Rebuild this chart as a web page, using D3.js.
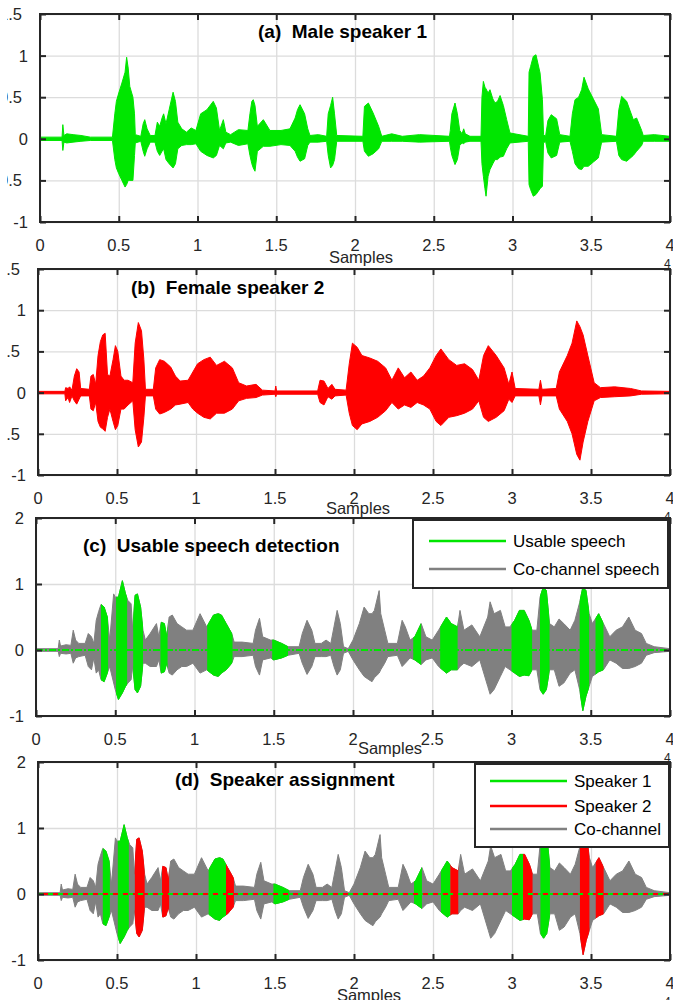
<!DOCTYPE html>
<html>
<head>
<meta charset="utf-8">
<script src="https://d3js.org/d3.v7.min.js"></script>
<style>
  body, html { margin: 0; padding: 0; background: #fff; overflow: hidden; }
  svg { display: block; }
  text { font-family: "Liberation Sans", Arial, sans-serif; fill: #262626; }
  .grid line { stroke: #dcdcdc; stroke-width: 1.3; }
  .grid path, .tk path, .tk text { display: none; }
  .tk line { stroke: #262626; stroke-width: 2; }
  .frame { fill: none; stroke: #262626; stroke-width: 2; }
  .title { font-weight: bold; font-size: 19px; fill: #000; white-space: pre; }
  .lbl { font-size: 16.5px; }
  .leg text { font-size: 17px; fill: #000; }
</style>
</head>
<body>
<div id="chart"></div>
<script>
var W = 673, H = 1000;
var GREEN = "#00e600", RED = "#ff0000", GRAY = "#808080";

var xTicks = [0, 0.5, 1, 1.5, 2, 2.5, 3, 3.5, 4];
var yTicksAB = [-1, -0.5, 0, 0.5, 1, 1.5];
var yTicksCD = [-1, 0, 1, 2];

// waveform envelopes: [samples (x1e4), upper, lower]
var male = [
  [0, 0.02, -0.02], [0.14, 0.02, -0.02], [0.145, 0.17, -0.14], [0.152, 0.04, -0.04], [0.17, 0.06, -0.05],
  [0.21, 0.05, -0.04], [0.26, 0.04, -0.03], [0.32, 0.02, -0.02], [0.46, 0.02, -0.02], [0.475, 0.3, -0.25],
  [0.485, 0.45, -0.35], [0.5, 0.55, -0.42], [0.52, 0.67, -0.5], [0.54, 0.8, -0.58], [0.55, 0.98, -0.55],
  [0.56, 0.85, -0.5], [0.57, 0.63, -0.5], [0.59, 0.5, -0.5], [0.6, 0.3, -0.2], [0.605, 0.05, -0.05],
  [0.64, 0.03, -0.03], [0.655, 0.18, -0.15], [0.665, 0.23, -0.21], [0.68, 0.12, -0.12], [0.7, 0.04, -0.04],
  [0.73, 0.04, -0.04], [0.745, 0.2, -0.15], [0.76, 0.15, -0.2], [0.775, 0.25, -0.15], [0.785, 0.3, -0.12],
  [0.8, 0.18, -0.25], [0.82, 0.35, -0.3], [0.845, 0.56, -0.35], [0.86, 0.45, -0.3], [0.875, 0.2, -0.12],
  [0.9, 0.12, -0.08], [0.93, 0.08, -0.07], [0.96, 0.13, -0.07], [0.99, 0.1, -0.06], [1.02, 0.3, -0.15],
  [1.06, 0.35, -0.2], [1.1, 0.45, -0.23], [1.12, 0.37, -0.2], [1.14, 0.1, -0.08], [1.164, 0.23, -0.12],
  [1.18, 0.08, -0.05], [1.21, 0.05, -0.04], [1.26, 0.11, -0.08], [1.32, 0.1, -0.06], [1.333, 0.3, -0.2],
  [1.345, 0.45, -0.3], [1.354, 0.47, -0.35], [1.365, 0.4, -0.39], [1.38, 0.15, -0.15], [1.418, 0.23, -0.09],
  [1.46, 0.1, -0.09], [1.53, 0.1, -0.07], [1.587, 0.12, -0.08], [1.62, 0.25, -0.15], [1.635, 0.35, -0.22],
  [1.651, 0.41, -0.27], [1.68, 0.3, -0.24], [1.7, 0.12, -0.08], [1.714, 0.04, -0.04], [1.767, 0.05, -0.04],
  [1.82, 0.03, -0.03], [1.83, 0.3, -0.2], [1.845, 0.4, -0.35], [1.858, 0.5, -0.32], [1.87, 0.3, -0.25],
  [1.884, 0.04, -0.03], [2.05, 0.03, -0.03], [2.06, 0.39, -0.15], [2.085, 0.43, -0.21], [2.115, 0.31, -0.18],
  [2.15, 0.15, -0.12], [2.17, 0.03, -0.03], [2.233, 0.06, -0.03], [2.3, 0.03, -0.03], [2.41, 0.05, -0.04],
  [2.6, 0.03, -0.03], [2.605, 0.1, -0.1], [2.615, 0.3, -0.2], [2.635, 0.43, -0.31], [2.65, 0.3, -0.25],
  [2.665, 0.1, -0.08], [2.68, 0.06, -0.05], [2.69, 0.12, -0.06], [2.7, 0.06, -0.04], [2.73, 0.03, -0.03],
  [2.8, 0.03, -0.03], [2.806, 0.5, -0.3], [2.815, 0.69, -0.45], [2.825, 0.62, -0.6], [2.832, 0.6, -0.69],
  [2.845, 0.55, -0.45], [2.857, 0.59, -0.37], [2.875, 0.48, -0.3], [2.889, 0.43, -0.25], [2.905, 0.45, -0.25],
  [2.921, 0.52, -0.22], [2.942, 0.4, -0.21], [2.963, 0.23, -0.12], [2.984, 0.07, -0.05], [3.1, 0.03, -0.03],
  [3.105, 0.8, -0.55], [3.115, 0.87, -0.61], [3.132, 0.99, -0.69], [3.149, 1.01, -0.67], [3.175, 0.79, -0.6],
  [3.19, 0.47, -0.57], [3.197, 0.05, -0.05], [3.21, 0.03, -0.03], [3.225, 0.22, -0.17], [3.246, 0.29, -0.23],
  [3.28, 0.24, -0.2], [3.3, 0.05, -0.04], [3.365, 0.03, -0.03], [3.38, 0.3, -0.15], [3.397, 0.47, -0.3],
  [3.42, 0.5, -0.36], [3.439, 0.59, -0.37], [3.454, 0.74, -0.33], [3.481, 0.6, -0.33], [3.513, 0.48, -0.28],
  [3.545, 0.36, -0.23], [3.566, 0.05, -0.04], [3.66, 0.03, -0.03], [3.675, 0.35, -0.2], [3.693, 0.51, -0.25],
  [3.725, 0.45, -0.27], [3.767, 0.23, -0.2], [3.788, 0.25, -0.15], [3.82, 0.1, -0.08], [3.83, 0.04, -0.03],
  [3.9, 0.05, -0.03], [4, 0.03, -0.03]
];

var female = [
  [0, 0.015, -0.015], [0.17, 0.015, -0.015], [0.175, 0.06, -0.1], [0.19, 0.05, -0.06], [0.2, 0.07, -0.12],
  [0.215, 0.03, -0.04], [0.23, 0.2, -0.1], [0.245, 0.29, -0.14], [0.26, 0.25, -0.08], [0.27, 0.05, -0.04],
  [0.325, 0.04, -0.04], [0.335, 0.2, -0.2], [0.35, 0.22, -0.22], [0.365, 0.1, -0.12], [0.38, 0.45, -0.35],
  [0.395, 0.62, -0.42], [0.41, 0.7, -0.44], [0.425, 0.72, -0.47], [0.44, 0.22, -0.3], [0.455, 0.2, -0.2],
  [0.475, 0.4, -0.35], [0.49, 0.57, -0.45], [0.505, 0.5, -0.4], [0.525, 0.2, -0.2], [0.545, 0.15, -0.2],
  [0.57, 0.15, -0.15], [0.6, 0.12, -0.1], [0.615, 0.6, -0.45], [0.635, 0.85, -0.66], [0.655, 0.75, -0.6],
  [0.67, 0.4, -0.3], [0.68, 0.04, -0.04], [0.73, 0.04, -0.04], [0.745, 0.3, -0.2], [0.77, 0.4, -0.26],
  [0.8, 0.38, -0.24], [0.84, 0.31, -0.2], [0.87, 0.2, -0.15], [0.9, 0.14, -0.14], [0.95, 0.15, -0.12],
  [0.98, 0.25, -0.2], [1.01, 0.35, -0.25], [1.05, 0.4, -0.3], [1.09, 0.43, -0.32], [1.13, 0.33, -0.25],
  [1.18, 0.38, -0.25], [1.23, 0.3, -0.2], [1.27, 0.12, -0.1], [1.32, 0.08, -0.07], [1.38, 0.1, -0.06],
  [1.42, 0.03, -0.03], [1.5, 0.02, -0.02], [1.505, 0.08, -0.05], [1.51, 0.02, -0.02], [1.77, 0.02, -0.02],
  [1.785, 0.15, -0.12], [1.81, 0.14, -0.15], [1.835, 0.05, -0.05], [1.86, 0.1, -0.08], [1.88, 0.04, -0.04],
  [1.95, 0.03, -0.03], [1.97, 0.35, -0.25], [1.99, 0.6, -0.4], [2.02, 0.55, -0.45], [2.05, 0.45, -0.38],
  [2.1, 0.42, -0.35], [2.15, 0.38, -0.3], [2.2, 0.3, -0.22], [2.24, 0.15, -0.12], [2.28, 0.3, -0.2],
  [2.32, 0.18, -0.15], [2.36, 0.25, -0.18], [2.4, 0.15, -0.12], [2.44, 0.2, -0.15], [2.48, 0.3, -0.2],
  [2.52, 0.45, -0.35], [2.55, 0.53, -0.4], [2.6, 0.4, -0.3], [2.65, 0.33, -0.28], [2.7, 0.35, -0.25],
  [2.75, 0.28, -0.2], [2.79, 0.15, -0.1], [2.82, 0.45, -0.3], [2.85, 0.57, -0.35], [2.9, 0.45, -0.3],
  [2.95, 0.3, -0.22], [2.98, 0.1, -0.08], [3.0, 0.25, -0.12], [3.02, 0.05, -0.04], [3.17, 0.04, -0.04],
  [3.18, 0.15, -0.15], [3.19, 0.04, -0.04], [3.28, 0.05, -0.04], [3.3, 0.25, -0.2], [3.35, 0.45, -0.35],
  [3.38, 0.6, -0.5], [3.41, 0.87, -0.75], [3.43, 0.8, -0.82], [3.45, 0.7, -0.6], [3.48, 0.45, -0.35],
  [3.52, 0.12, -0.1], [3.56, 0.06, -0.06], [3.65, 0.07, -0.05], [3.75, 0.05, -0.04], [3.82, 0.02, -0.02],
  [4, 0.015, -0.015]
];

var mixture = [
  [0, 0.02, -0.02], [0.14, 0.02, -0.02], [0.147, 0.15, -0.1], [0.155, 0.06, -0.05], [0.19, 0.08, -0.06],
  [0.22, 0.07, -0.05], [0.235, 0.3, -0.2], [0.25, 0.15, -0.12], [0.27, 0.1, -0.1], [0.31, 0.1, -0.08],
  [0.33, 0.25, -0.25], [0.35, 0.2, -0.3], [0.365, 0.1, -0.12], [0.38, 0.45, -0.35], [0.395, 0.58, -0.3],
  [0.41, 0.69, -0.45], [0.43, 0.65, -0.48], [0.45, 0.5, -0.35], [0.465, 0.15, -0.25], [0.49, 0.85, -0.5],
  [0.5, 0.8, -0.6], [0.52, 0.8, -0.75], [0.545, 1.05, -0.65], [0.565, 0.85, -0.55], [0.58, 0.75, -0.5],
  [0.6, 0.7, -0.45], [0.61, 0.3, -0.25], [0.625, 0.83, -0.6], [0.64, 0.85, -0.65], [0.66, 0.65, -0.55],
  [0.675, 0.3, -0.2], [0.69, 0.15, -0.2], [0.72, 0.25, -0.25], [0.76, 0.4, -0.25], [0.775, 0.2, -0.15],
  [0.79, 0.42, -0.35], [0.81, 0.4, -0.33], [0.825, 0.2, -0.2], [0.84, 0.5, -0.35], [0.86, 0.53, -0.38],
  [0.89, 0.4, -0.3], [0.92, 0.35, -0.25], [0.95, 0.3, -0.25], [0.99, 0.3, -0.2], [1.035, 0.55, -0.35],
  [1.077, 0.35, -0.3], [1.12, 0.53, -0.38], [1.15, 0.55, -0.4], [1.17, 0.53, -0.35], [1.2, 0.4, -0.3],
  [1.235, 0.25, -0.2], [1.25, 0.12, -0.1], [1.3, 0.12, -0.1], [1.37, 0.1, -0.08], [1.385, 0.3, -0.25],
  [1.41, 0.48, -0.38], [1.43, 0.2, -0.15], [1.48, 0.15, -0.12], [1.5, 0.15, -0.15], [1.55, 0.1, -0.12],
  [1.59, 0.05, -0.08], [1.66, 0.05, -0.05], [1.68, 0.25, -0.2], [1.71, 0.45, -0.37], [1.74, 0.3, -0.25],
  [1.76, 0.1, -0.1], [1.8, 0.1, -0.1], [1.83, 0.15, -0.1], [1.86, 0.1, -0.08], [1.88, 0.35, -0.25],
  [1.9, 0.6, -0.38], [1.92, 0.4, -0.3], [1.94, 0.05, -0.05], [1.97, 0.02, -0.02], [2.0, 0.15, -0.15],
  [2.04, 0.4, -0.3], [2.07, 0.65, -0.4], [2.1, 0.55, -0.45], [2.12, 0.55, -0.48], [2.135, 0.6, -0.42],
  [2.165, 0.9, -0.35], [2.175, 0.55, -0.3], [2.2, 0.3, -0.2], [2.22, 0.1, -0.1], [2.28, 0.1, -0.08],
  [2.31, 0.45, -0.25], [2.33, 0.35, -0.2], [2.36, 0.15, -0.12], [2.39, 0.2, -0.15], [2.43, 0.4, -0.22],
  [2.46, 0.2, -0.15], [2.5, 0.15, -0.12], [2.54, 0.3, -0.25], [2.59, 0.5, -0.35], [2.62, 0.4, -0.3],
  [2.66, 0.35, -0.3], [2.675, 0.6, -0.25], [2.7, 0.3, -0.2], [2.75, 0.38, -0.25], [2.8, 0.2, -0.15],
  [2.85, 0.5, -0.55], [2.865, 0.73, -0.67], [2.89, 0.55, -0.6], [2.93, 0.6, -0.4], [2.96, 0.35, -0.25],
  [2.99, 0.35, -0.3], [3.02, 0.45, -0.35], [3.05, 0.6, -0.4], [3.08, 0.6, -0.38], [3.11, 0.45, -0.39],
  [3.13, 0.3, -0.3], [3.16, 0.3, -0.3], [3.18, 0.8, -0.6], [3.2, 0.95, -0.67], [3.22, 0.9, -0.6],
  [3.24, 0.4, -0.3], [3.27, 0.35, -0.3], [3.3, 0.47, -0.55], [3.33, 0.4, -0.5], [3.37, 0.3, -0.35],
  [3.4, 0.45, -0.3], [3.43, 0.72, -0.6], [3.45, 0.95, -0.92], [3.47, 0.9, -0.7], [3.49, 0.55, -0.55],
  [3.51, 0.4, -0.4], [3.55, 0.55, -0.33], [3.58, 0.4, -0.3], [3.62, 0.2, -0.15], [3.66, 0.3, -0.2],
  [3.7, 0.35, -0.28], [3.74, 0.5, -0.28], [3.78, 0.3, -0.25], [3.82, 0.25, -0.2], [3.85, 0.1, -0.08],
  [3.9, 0.05, -0.04], [4, 0.02, -0.02]
];

// detected segments [start, end] in samples (x1e4)
var speaker1Segs = [[0.41, 0.455], [0.505, 0.575], [1.08, 1.19], [1.49, 1.59], [2.38, 2.43], [2.55, 2.61], [3.0, 3.07], [3.18, 3.24]];
var speaker2Segs = [[0.613, 0.675], [0.785, 0.83], [1.19, 1.24], [2.61, 2.66], [3.07, 3.13], [3.43, 3.49], [3.53, 3.58]];
var usableSegs = speaker1Segs.concat(speaker2Segs);

var legendC = [["Usable speech", GREEN], ["Co-channel speech", GRAY]];
var legendD = [["Speaker 1", GREEN], ["Speaker 2", RED], ["Co-channel", GRAY]];

var svg = d3.select("#chart").append("svg").attr("width", W).attr("height", H);
var defs = svg.append("defs");
defs.append("clipPath").attr("id", "ylab-clip")
  .append("rect").attr("x", 7).attr("y", 0).attr("width", 200).attr("height", H);

var panels = [
  { left: 40, top: 14, right: 670, bottom: 222, yDomain: [-1, 1.5], yTicks: yTicksAB,
    title: "(a)  Male speaker 1", titleX: 258, titleY: 38, samplesX: 361, samplesY: 263,
    layers: [{ env: male, color: GREEN }] },
  { left: 38, top: 269, right: 670, bottom: 475, yDomain: [-1, 1.5], yTicks: yTicksAB,
    title: "(b)  Female speaker 2", titleX: 131, titleY: 294, samplesX: 358, samplesY: 514,
    layers: [{ env: female, color: RED }] },
  { left: 36, top: 518, right: 670, bottom: 716, yDomain: [-1, 2], yTicks: yTicksCD,
    title: "(c)  Usable speech detection", titleX: 83, titleY: 552, samplesX: 390, samplesY: 754,
    layers: [{ env: mixture, color: GRAY }, { env: mixture, color: GREEN, segs: usableSegs }],
    zero: [{ color: GREEN, dash: "7,2,2,2", offset: 0 }],
    legend: { items: legendC, x0: 413, y0: 520, x1: 668, y1: 588, lx0: 429, lx1: 506, tx: 513, rowY: [541, 569] } },
  { left: 38, top: 762, right: 670, bottom: 960, yDomain: [-1, 2], yTicks: yTicksCD,
    title: "(d)  Speaker assignment", titleX: 175, titleY: 786, samplesX: 369, samplesY: 1001,
    layers: [{ env: mixture, color: GRAY }, { env: mixture, color: GREEN, segs: speaker1Segs },
             { env: mixture, color: RED, segs: speaker2Segs }],
    zero: [{ color: GREEN, dash: "5,5", offset: 0 }, { color: RED, dash: "5,5", offset: 5 }],
    legend: { items: legendD, x0: 475, y0: 764, x1: 669, y1: 847, lx0: 490, lx1: 567, tx: 574, rowY: [781, 806, 829] } }
];

panels.forEach(function(p, pi) {
  var x = d3.scaleLinear().domain([0, 4]).range([p.left, p.right]);
  var y = d3.scaleLinear().domain(p.yDomain).range([p.bottom, p.top]);
  var g = svg.append("g");
  var h = p.bottom - p.top, w = p.right - p.left;

  // grid
  g.append("g").attr("class", "grid").attr("transform", "translate(0," + p.bottom + ")")
    .call(d3.axisBottom(x).tickValues(xTicks).tickSize(-h).tickFormat(""));
  g.append("g").attr("class", "grid").attr("transform", "translate(" + p.left + ",0)")
    .call(d3.axisLeft(y).tickValues(p.yTicks).tickSize(-w).tickFormat(""));

  var clipId = "plot-" + pi;
  defs.append("clipPath").attr("id", clipId).append("rect")
    .attr("x", p.left).attr("y", p.top).attr("width", w).attr("height", h);

  var area = d3.area()
    .x(function(d) { return x(d[0]); })
    .y0(function(d) { return y(d[2]); })
    .y1(function(d) { return y(d[1]); });

  var plot = g.append("g").attr("clip-path", "url(#" + clipId + ")");
  p.layers.forEach(function(l, li) {
    var target = plot;
    if (l.segs) {
      var segId = "seg-" + pi + "-" + li;
      defs.append("clipPath").attr("id", segId).selectAll("rect")
        .data(l.segs).enter().append("rect")
        .attr("x", function(s) { return x(s[0]); })
        .attr("width", function(s) { return x(s[1]) - x(s[0]); })
        .attr("y", p.top).attr("height", h);
      target = plot.append("g").attr("clip-path", "url(#" + segId + ")");
    }
    target.append("path").datum(l.env)
      .attr("d", area)
      .attr("fill", l.color)
      .attr("stroke", l.color)
      .attr("stroke-width", 1);
  });

  if (p.zero) {
    var zl = d3.line().x(function(d) { return x(d); }).y(y(0));
    p.zero.forEach(function(z) {
      plot.append("path").datum([0, 4]).attr("d", zl)
        .attr("stroke", z.color).attr("stroke-width", 2)
        .attr("stroke-dasharray", z.dash).attr("stroke-dashoffset", z.offset);
    });
  }

  // frame and inward ticks
  g.append("rect").attr("class", "frame")
    .attr("x", p.left).attr("y", p.top).attr("width", w).attr("height", h);
  g.append("g").attr("class", "tk").attr("transform", "translate(0," + p.bottom + ")")
    .call(d3.axisBottom(x).tickValues(xTicks).tickSize(-6));
  g.append("g").attr("class", "tk").attr("transform", "translate(0," + p.top + ")")
    .call(d3.axisTop(x).tickValues(xTicks).tickSize(-6));
  g.append("g").attr("class", "tk").attr("transform", "translate(" + p.left + ",0)")
    .call(d3.axisLeft(y).tickValues(p.yTicks).tickSize(-6));
  g.append("g").attr("class", "tk").attr("transform", "translate(" + p.right + ",0)")
    .call(d3.axisRight(y).tickValues(p.yTicks).tickSize(-6));

  // labels
  g.selectAll(".xl").data(xTicks).enter().append("text")
    .attr("class", "lbl").attr("text-anchor", "middle")
    .attr("x", function(d) { return x(d); }).attr("y", p.bottom + 29)
    .text(function(d) { return d; });
  g.append("g").attr("clip-path", "url(#ylab-clip)")
    .selectAll("text").data(p.yTicks).enter().append("text")
    .attr("class", "lbl").attr("text-anchor", "end")
    .attr("x", function(d) { return Number.isInteger(d) ? p.left - 12 : p.left - 18; })
    .attr("y", function(d) { return y(d) + 6; })
    .text(function(d) { return d; });
  g.append("text").attr("class", "lbl").attr("text-anchor", "middle")
    .attr("x", p.samplesX).attr("y", p.samplesY).text("Samples");
  g.append("text").attr("font-size", 12).attr("x", 664).attr("y", p.bottom + 46).text("4");
  g.append("text").attr("class", "title").attr("x", p.titleX).attr("y", p.titleY).text(p.title);

  if (p.legend) {
    var L = p.legend;
    var lg = g.append("g").attr("class", "leg");
    lg.append("rect").attr("x", L.x0).attr("y", L.y0)
      .attr("width", L.x1 - L.x0).attr("height", L.y1 - L.y0)
      .attr("fill", "#fff").attr("stroke", "#262626").attr("stroke-width", 2);
    L.items.forEach(function(it, k) {
      lg.append("line").attr("x1", L.lx0).attr("x2", L.lx1)
        .attr("y1", L.rowY[k]).attr("y2", L.rowY[k])
        .attr("stroke", it[1]).attr("stroke-width", 2.5);
      lg.append("text").attr("x", L.tx).attr("y", L.rowY[k] + 6).text(it[0]);
    });
  }
});
</script>
</body>
</html>
